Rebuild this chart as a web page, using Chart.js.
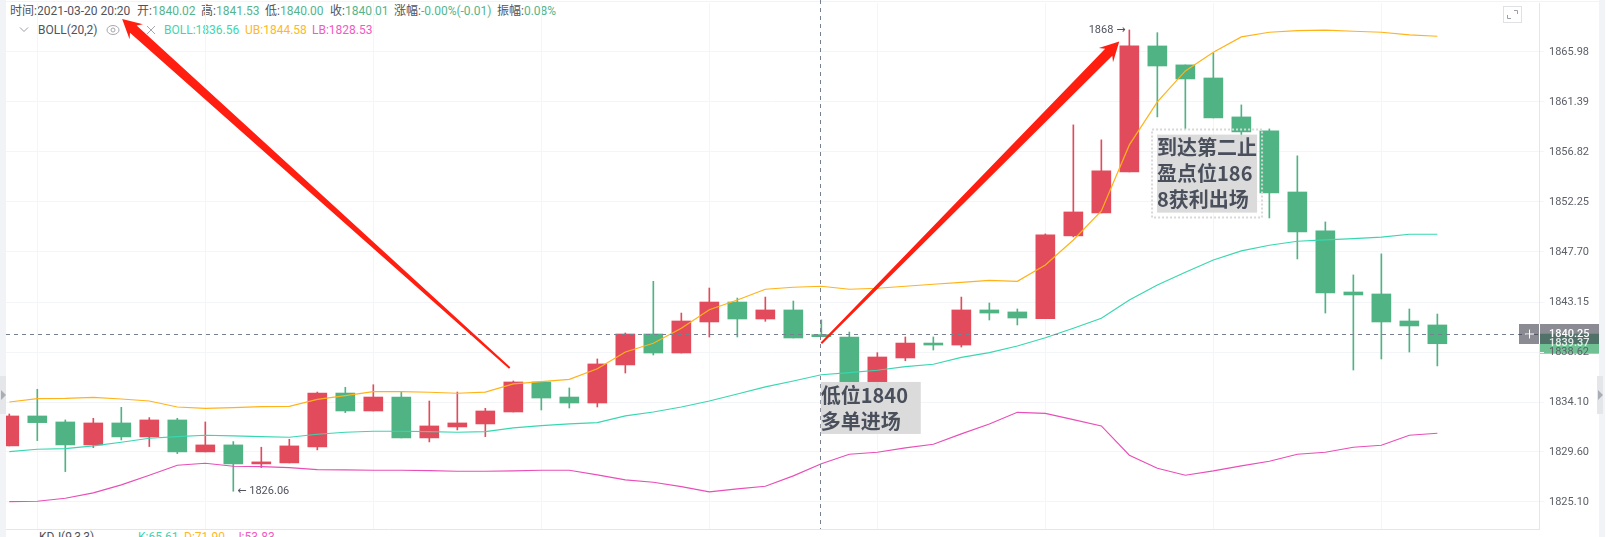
<!doctype html>
<html>
  <head>
    <meta charset="utf-8" />
    <title>BOLL</title>
    <script src="https://cdn.jsdelivr.net/npm/chart.js"></script>
    <style>
* { box-sizing: border-box; }
html, body { margin: 0; padding: 0; background: #fff; }
body { width: 1610px; height: 537px; overflow: hidden; position: relative;
  font-family: Roboto, "Noto Sans CJK SC", sans-serif; font-size: 12px; color: #50535e; }
#myChart { position: absolute; left: 0; top: 0; z-index: 5; }
.strip { position: absolute; background: #f2f3f7; }
.handle { position: absolute; background: #e4e6ea; width: 6px; height: 38px; top: 376px; }
.tri { position: absolute; top: 14px; width: 0; height: 0; border-top: 5px solid transparent; border-bottom: 5px solid transparent; }
.t { position: absolute; white-space: nowrap; line-height: 16px; }
.g { color: #56b48c; }
svg { position: absolute; }
    </style>
  </head>
  <body>
    <div class="strip" style="left:0;top:0;width:6px;height:537px"></div>
    <div class="strip" style="left:1599px;top:0;width:6px;height:537px"></div>
    <div class="strip" style="left:6px;top:1px;width:1593px;height:1px"></div>
    <div class="handle" style="left:0"><div class="tri" style="left:1px;border-left:5px solid #a9adb5"></div></div>
    <div class="handle" style="left:1597px"><div class="tri" style="left:1px;border-left:5px solid #a9adb5"></div></div>

    <div class="t" style="left:10px;top:3px">时间:2021-03-20 20:20</div>
    <div class="t" style="left:137px;top:3px">开:<span class="g">1840.02</span></div>
    <div class="t" style="left:201px;top:3px">高:<span class="g">1841.53</span></div>
    <div class="t" style="left:265px;top:3px">低:<span class="g">1840.00</span></div>
    <div class="t" style="left:330px;top:3px">收:<span class="g">1840.01</span></div>
    <div class="t" style="left:394px;top:3px">涨幅:<span class="g">-0.00%(-0.01)</span></div>
    <div class="t" style="left:497px;top:3px">振幅:<span class="g">0.08%</span></div>

    <svg style="left:19px;top:26px" width="10" height="8"><path d="M1 1.5 L5 5.5 L9 1.5" fill="none" stroke="#9a9ea6"/></svg>
    <div class="t" style="left:38px;top:22px">BOLL(20,2)</div>
    <svg style="left:106px;top:24px" width="14" height="12"><ellipse cx="7" cy="6" rx="6" ry="4.5" fill="none" stroke="#a5a8ae"/><circle cx="7" cy="6" r="2" fill="none" stroke="#a5a8ae"/></svg>
    <svg style="left:146px;top:25px" width="10" height="10"><path d="M1 1 L9 9 M9 1 L1 9" stroke="#a5a8ae"/></svg>
    <div class="t" style="left:164px;top:22px;color:#3dd6b0">BOLL:1836.56</div>
    <div class="t" style="left:245px;top:22px;color:#ffb81f">UB:1844.58</div>
    <div class="t" style="left:312px;top:22px;color:#f25ac2">LB:1828.53</div>

    <svg style="left:1503px;top:6px" width="19" height="17"><rect x="0.5" y="0.5" width="18" height="16" fill="none" stroke="#dfe1e5"/><path d="M11 4.5 H14.5 V8 M4.5 9 V12.5 H8" fill="none" stroke="#9a9ea6"/></svg>

    <div class="t" style="left:39px;top:529px">KDJ(9,3,3)</div>
    <div class="t" style="left:138px;top:529px;color:#3dd6b0">K:65.61</div>
    <div class="t" style="left:184px;top:529px;color:#ffb81f">D:71.90</div>
    <div class="t" style="left:235px;top:529px;color:#f25ac2">J:53.83</div>

    <canvas id="myChart" width="1610" height="537"></canvas>
    <script>
      const opens = [1830.14,1832.84,1832.30,1830.23,1832.21,1830.95,1832.48,1829.60,1830.23,1828.52,1828.61,1830.05,1834.91,1833.29,1834.55,1830.86,1831.85,1832.12,1833.20,1835.91,1834.55,1834.01,1837.45,1840.25,1838.53,1841.34,1843.15,1841.61,1842.43,1840.02,1839.98,1835.91,1838.08,1839.43,1839.25,1842.43,1842.25,1841.65,1849.16,1851.25,1854.99,1866.53,1864.79,1863.59,1860.02,1858.74,1853.16,1849.61,1844.06,1843.88,1841.43,1841.07];
      const highs = [1833.02,1835.25,1832.48,1832.63,1833.62,1832.69,1832.63,1832.30,1830.53,1830.02,1830.74,1835.00,1835.43,1835.66,1835.00,1834.19,1835.00,1833.53,1836.00,1835.91,1835.37,1837.99,1840.34,1845.03,1842.15,1844.42,1843.51,1843.60,1843.24,1841.53,1840.43,1838.56,1839.98,1839.98,1843.60,1843.06,1842.52,1849.34,1859.29,1857.92,1868.00,1867.75,1864.79,1865.89,1861.12,1858.92,1856.46,1850.43,1845.61,1847.52,1842.52,1842.06];
      const lows = [1830.14,1830.62,1827.83,1829.99,1830.68,1830.08,1829.45,1829.60,1826.06,1828.19,1828.61,1829.78,1833.14,1833.29,1830.86,1830.50,1831.58,1830.98,1833.20,1833.38,1833.56,1833.65,1836.72,1838.35,1838.53,1839.98,1839.98,1841.40,1839.89,1840.00,1835.37,1835.37,1837.83,1838.80,1839.07,1841.52,1841.07,1841.65,1849.07,1851.25,1854.99,1860.02,1858.92,1859.93,1857.28,1850.79,1847.06,1842.15,1836.99,1837.99,1838.62,1837.36];
      const closes = [1832.84,1832.24,1830.23,1832.21,1830.95,1832.48,1829.60,1830.23,1828.52,1828.70,1830.14,1834.91,1833.29,1834.55,1830.86,1831.94,1832.21,1833.29,1835.91,1834.46,1834.01,1837.54,1840.25,1838.53,1841.43,1843.15,1841.61,1842.43,1839.89,1840.01,1835.91,1838.17,1839.43,1839.25,1842.43,1842.15,1841.70,1849.25,1851.34,1855.09,1866.53,1864.69,1863.50,1859.93,1858.65,1853.07,1849.52,1843.97,1843.79,1841.34,1840.98,1839.37];
      const bollMid = [1829.63,1829.84,1829.90,1830.14,1830.47,1830.83,1830.98,1831.10,1831.04,1830.98,1830.92,1831.19,1831.37,1831.46,1831.46,1831.43,1831.37,1831.43,1831.76,1831.97,1832.12,1832.24,1832.84,1833.20,1833.65,1834.19,1834.82,1835.46,1836.00,1836.56,1836.75,1836.97,1837.30,1837.51,1838.14,1838.56,1839.16,1839.91,1840.77,1841.67,1843.33,1844.69,1845.85,1846.97,1847.79,1848.31,1848.67,1848.79,1848.91,1849.04,1849.31,1849.31];
      const bollUpper = [1834.10,1834.40,1834.43,1834.52,1834.37,1834.19,1833.65,1833.53,1833.59,1833.68,1833.71,1834.34,1834.67,1835.03,1835.03,1834.98,1834.89,1835.00,1835.73,1835.94,1836.15,1837.11,1838.62,1839.41,1840.77,1842.45,1843.33,1844.31,1844.49,1844.58,1844.31,1844.40,1844.58,1844.76,1844.94,1845.12,1845.03,1846.52,1848.79,1851.43,1857.46,1861.39,1864.24,1865.95,1867.36,1867.79,1867.94,1867.98,1867.88,1867.79,1867.54,1867.42];
      const bollLower = [1825.13,1825.16,1825.43,1825.91,1826.63,1827.50,1828.40,1828.58,1828.31,1828.28,1828.19,1828.01,1827.98,1827.95,1827.95,1827.92,1827.86,1827.86,1827.89,1827.95,1827.95,1827.53,1827.08,1826.87,1826.48,1826.00,1826.27,1826.51,1827.44,1828.53,1829.39,1829.57,1829.96,1830.29,1831.22,1832.12,1833.17,1833.08,1832.51,1831.94,1829.30,1828.13,1827.50,1827.89,1828.34,1828.76,1829.39,1829.57,1830.02,1830.20,1831.10,1831.28];
      const priceTicks = [1865.98,1861.39,1856.82,1852.25,1847.70,1843.15,1838.62,1834.10,1829.60,1825.10];
      const gridCandles = [1,7,13,19,25,31,37,43,49];
      const crossIndex = 29;
      const crossPrice = 1840.25;
      const lastPrice = 1839.37;
      const callouts = [
        {x: 28.98, y: 1835.91, lines: ['低位1840', '多单进场'], w: 100, dotted: false},
        {x: 40.99, y: 1858.40, lines: ['到达第二止', '盈点位186', '8获利出场'], w: 100, dotted: true},
      ];
      const redArrows = [
        {from: [17.87, 1837.18], to: [4.03, 1869.0]},
        {from: [29, 1839.41], to: [39.64, 1866.93]},
      ];
      const extremes = [
        {x: 8, y: 1826.06, text: '← 1826.06', side: 'right'},
        {x: 40, y: 1868.00, text: '1868 →', side: 'left'},
      ];

      const UP = '#e24b5b', DOWN = '#4fb383';
      const candleColors = opens.map((o, i) => closes[i] > o ? UP : DOWN);
      const pts = (arr) => arr.map((v, i) => ({x: i, y: v}));
      const CJK = '"Noto Sans CJK SC", Roboto, sans-serif';

      const overlay = {
        id: 'overlay',
        beforeDraw(chart) {
          // green last price tag sits under the tick labels
          const {ctx, scales: {y}, chartArea} = chart;
          const py = y.getPixelForValue(lastPrice);
          ctx.save();
          ctx.fillStyle = '#6fc194';
          ctx.fillRect(chartArea.right, py - 10, 60, 20);
          ctx.restore();
        },
        afterDraw(chart) {
          const {ctx, scales: {x, y}, chartArea} = chart;
          ctx.save();

          // crosshair
          const cx = x.getPixelForValue(crossIndex);
          const cy = y.getPixelForValue(crossPrice);
          ctx.strokeStyle = '#76808e';
          ctx.lineWidth = 1;
          ctx.setLineDash([4, 4]);
          ctx.beginPath();
          ctx.moveTo(Math.round(cx) - 0.5, 0);
          ctx.lineTo(Math.round(cx) - 0.5, chartArea.bottom);
          ctx.moveTo(chartArea.left, Math.round(cy) + 0.5);
          ctx.lineTo(chartArea.right, Math.round(cy) + 0.5);
          ctx.stroke();
          ctx.setLineDash([]);

          // extreme labels
          ctx.font = '11px Roboto, "DejaVu Sans", sans-serif';
          ctx.fillStyle = '#50535e';
          ctx.textBaseline = 'middle';
          extremes.forEach((e) => {
            const ex = x.getPixelForValue(e.x);
            const ey = y.getPixelForValue(e.y);
            ctx.textAlign = e.side === 'right' ? 'left' : 'right';
            ctx.fillText(e.text, ex + (e.side === 'right' ? 4 : -4), ey);
          });

          // callouts
          callouts.forEach((c) => {
            const bx = x.getPixelForValue(c.x);
            const by = y.getPixelForValue(c.y);
            const h = c.lines.length * 26;
            ctx.fillStyle = 'rgba(217,217,217,0.95)';
            ctx.fillRect(bx, by, c.w, h);
            if (c.dotted) {
              ctx.strokeStyle = '#d8d8d8';
              ctx.lineWidth = 2;
              ctx.setLineDash([2, 2]);
              ctx.strokeRect(bx - 5, by - 5, c.w + 10, h + 10);
              ctx.setLineDash([]);
            }
            ctx.fillStyle = '#4a4f5c';
            ctx.font = '700 20px ' + CJK;
            ctx.textAlign = 'left';
            c.lines.forEach((l, i) => ctx.fillText(l, bx, by + 13 + i * 26));
          });

          // red arrows
          ctx.fillStyle = '#ff1e10';
          redArrows.forEach((a) => {
            const tx = x.getPixelForValue(a.from[0]), ty = y.getPixelForValue(a.from[1]);
            const hx = x.getPixelForValue(a.to[0]), hy = y.getPixelForValue(a.to[1]);
            const len = Math.hypot(hx - tx, hy - ty);
            const ux = (hx - tx) / len, uy = (hy - ty) / len;
            const nx = -uy, ny = ux;
            const p = (along, off) => [hx - ux * along + nx * off, hy - uy * along + ny * off];
            const poly = [p(len, 1), p(15, 5), p(19, 10), p(0, 0), p(19, -10), p(15, -5), p(len, -1)];
            ctx.beginPath();
            poly.forEach((q, i) => i ? ctx.lineTo(q[0], q[1]) : ctx.moveTo(q[0], q[1]));
            ctx.closePath();
            ctx.fill();
          });

          // price tags
          const tagR = chartArea.right + 60;
          ctx.font = '500 11px Roboto, sans-serif';
          ctx.textAlign = 'left';
          ctx.fillStyle = 'rgba(60,62,75,0.6)';
          ctx.fillRect(chartArea.right - 20, cy - 10, tagR - chartArea.right + 20, 20);
          ctx.fillStyle = 'rgba(255,255,255,0.85)';
          ctx.fillText(lastPrice.toFixed(2), chartArea.right + 10, y.getPixelForValue(lastPrice));
          ctx.fillStyle = '#fff';
          ctx.fillText(crossPrice.toFixed(2), chartArea.right + 10, cy);
          ctx.fillRect(chartArea.right, cy - 10, 1, 20);
          ctx.fillRect(chartArea.right - 14, cy - 0.5, 9, 1);
          ctx.fillRect(chartArea.right - 10, cy - 4.5, 1, 9);
          ctx.restore();
        },
      };

      const config = {
        type: 'bar',
        data: {
          datasets: [
            {type: 'line', data: pts(bollUpper), borderColor: '#ffb31a', borderWidth: 1.2, pointRadius: 0, order: 1},
            {type: 'line', data: pts(bollMid), borderColor: '#39d7b0', borderWidth: 1.2, pointRadius: 0, order: 1},
            {type: 'line', data: pts(bollLower), borderColor: '#e94fb8', borderWidth: 1.2, pointRadius: 0, order: 1},
            {
              data: opens.map((o, i) => ({x: i, y: [o, closes[i]]})),
              backgroundColor: candleColors,
              barThickness: 19,
              minBarLength: 2,
              grouped: false,
              order: 2,
            },
            {
              data: opens.map((o, i) => ({x: i, y: [lows[i], highs[i]]})),
              backgroundColor: candleColors,
              barThickness: 1,
              grouped: false,
              order: 3,
            },
          ],
        },
        options: {
          responsive: false,
          animation: false,
          layout: {padding: {left: 6, top: 3, bottom: 8, right: 0}},
          plugins: {legend: {display: false}, tooltip: {enabled: false}},
          scales: {
            x: {
              type: 'linear',
              offset: false,
              min: -0.118,
              max: 54.63,
              afterBuildTicks(scale) { scale.ticks = gridCandles.map((value) => ({value})); },
              afterFit(scale) { scale.height = 0; scale.paddingLeft = 0; scale.paddingRight = 0; },
              ticks: {display: false},
              grid: {color: '#f3f5f8', drawTicks: false, offset: false},
              border: {color: '#e4e6ea'},
            },
            y: {
              type: 'logarithmic',
              position: 'right',
              min: 1822.67,
              max: 1870.48,
              afterBuildTicks(scale) { scale.ticks = priceTicks.map((value) => ({value})); },
              afterFit(scale) { scale.width = 71; scale.paddingTop = 0; scale.paddingBottom = 0; },
              ticks: {
                autoSkip: false,
                padding: 5,
                color: '#5d6069',
                font: {family: 'Roboto', size: 11},
                callback: (v) => Number(v).toFixed(2),
              },
              grid: {color: '#f3f5f8', tickLength: 5},
              border: {color: '#e4e6ea'},
            },
          },
        },
        plugins: [overlay],
      };
      new Chart(document.getElementById('myChart'), config);
    </script>
  </body>
</html>
